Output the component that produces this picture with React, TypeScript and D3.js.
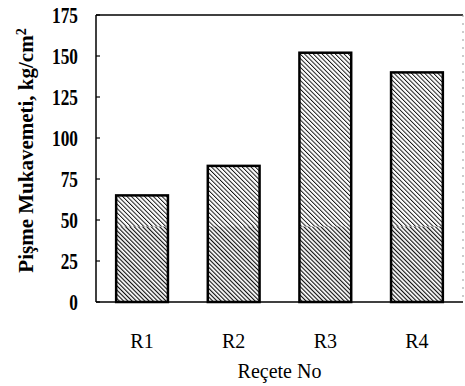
import { useEffect, useRef } from 'react';
import * as d3 from 'd3';

// recipes and their firing strength (kg/cm2)
const recipes = ['R1', 'R2', 'R3', 'R4'];
const strengths = [65, 83, 152, 140];
const yTicks = [0, 25, 50, 75, 100, 125, 150, 175];
// darker lower band seen on every bar in the scan
const darkBand = 46;

const serif = '"Liberation Serif", "Times New Roman", Times, serif';

const App = () => {
  const svgRef = useRef<SVGSVGElement>(null);

  useEffect(() => {
    const W = 465;
    const H = 386;
    const margin = { top: 15, right: 2, bottom: 84, left: 96 };

    const svg = d3.select(svgRef.current);
    svg.selectAll('*').remove();
    svg.attr('width', W).attr('height', H);

    // hatch patterns (lines running top-left to bottom-right)
    const defs = svg.append('defs');
    const mkPattern = (id: string, gap: number, sw: number) => {
      const p = defs
        .append('pattern')
        .attr('id', id)
        .attr('patternUnits', 'userSpaceOnUse')
        .attr('width', gap)
        .attr('height', gap)
        .attr('patternTransform', 'rotate(-45)');
      p.append('rect').attr('width', gap).attr('height', gap).attr('fill', '#fff');
      p.append('line')
        .attr('x1', 0)
        .attr('y1', 0)
        .attr('x2', 0)
        .attr('y2', gap)
        .attr('stroke', '#111')
        .attr('stroke-width', sw);
    };
    mkPattern('hatch', 3.1, 1.9);
    mkPattern('hatchDark', 3.0, 2.3);

    const x = d3
      .scaleBand()
      .domain(recipes)
      .range([margin.left, W - margin.right])
      .paddingInner(0.435)
      .paddingOuter(0.22);

    const y = d3
      .scaleLinear()
      .domain([0, 175])
      .range([H - margin.bottom, margin.top]);

    const g = svg.append('g');

    // frame
    g.append('line')
      .attr('x1', margin.left)
      .attr('x2', W - margin.right)
      .attr('y1', y(175))
      .attr('y2', y(175))
      .attr('stroke', '#000')
      .attr('stroke-width', 1.5);
    g.append('line')
      .attr('x1', margin.left)
      .attr('x2', margin.left)
      .attr('y1', y(175))
      .attr('y2', y(0))
      .attr('stroke', '#000')
      .attr('stroke-width', 1.5);
    g.append('line')
      .attr('x1', W - margin.right)
      .attr('x2', W - margin.right)
      .attr('y1', y(175))
      .attr('y2', y(0))
      .attr('stroke', '#999')
      .attr('stroke-width', 1)
      .attr('stroke-dasharray', '2,6');

    // y ticks
    yTicks.forEach((t) => {
      g.append('line')
        .attr('x1', margin.left)
        .attr('x2', margin.left + 4)
        .attr('y1', y(t))
        .attr('y2', y(t))
        .attr('stroke', '#000')
        .attr('stroke-width', 1.2);
      g.append('text')
        .attr('transform', `translate(78,${y(t)}) scale(0.72,1)`)
        .attr('dy', '0.35em')
        .attr('text-anchor', 'end')
        .attr('font-family', serif)
        .attr('font-weight', 'bold')
        .style('font-size', '24px')
        .text(t);
    });

    // bars
    recipes.forEach((r, i) => {
      const bx = x(r)!;
      const bw = x.bandwidth();
      const v = strengths[i];
      g.append('rect')
        .attr('x', bx)
        .attr('y', y(v))
        .attr('width', bw)
        .attr('height', y(0) - y(v))
        .attr('fill', 'url(#hatch)');
      g.append('rect')
        .attr('x', bx)
        .attr('y', y(Math.min(darkBand, v)))
        .attr('width', bw)
        .attr('height', y(0) - y(Math.min(darkBand, v)))
        .attr('fill', 'url(#hatchDark)');
      g.append('rect')
        .attr('x', bx)
        .attr('y', y(v))
        .attr('width', bw)
        .attr('height', y(0) - y(v))
        .attr('fill', 'none')
        .attr('stroke', '#000')
        .attr('stroke-width', 2.5);

      g.append('text')
        .attr('x', bx + bw / 2)
        .attr('y', 348)
        .attr('text-anchor', 'middle')
        .attr('font-family', serif)
        .style('font-size', '20px')
        .text(r);
    });

    // bottom axis line
    g.append('line')
      .attr('x1', margin.left)
      .attr('x2', W - margin.right)
      .attr('y1', y(0))
      .attr('y2', y(0))
      .attr('stroke', '#000')
      .attr('stroke-width', 1.5);

    // axis titles
    g.append('text')
      .attr('x', (margin.left + W - margin.right) / 2)
      .attr('y', 378)
      .attr('text-anchor', 'middle')
      .attr('font-family', serif)
      .style('font-size', '20px')
      .text('Reçete No');

    const yt = g
      .append('text')
      .attr('transform', `translate(33,${(y(0) + margin.top) / 2 - 8}) rotate(-90)`)
      .attr('text-anchor', 'middle')
      .attr('font-family', serif)
      .attr('font-weight', 'bold')
      .style('font-size', '21px');
    yt.append('tspan').text('Pişme Mukavemeti, kg/cm');
    yt.append('tspan').attr('dy', '-0.5em').style('font-size', '14px').text('2');
  }, []);

  return (
    <svg
      ref={svgRef}
      style={{ position: 'absolute', left: 0, top: 0, background: '#fff' }}
    />
  );
};

export default App;
